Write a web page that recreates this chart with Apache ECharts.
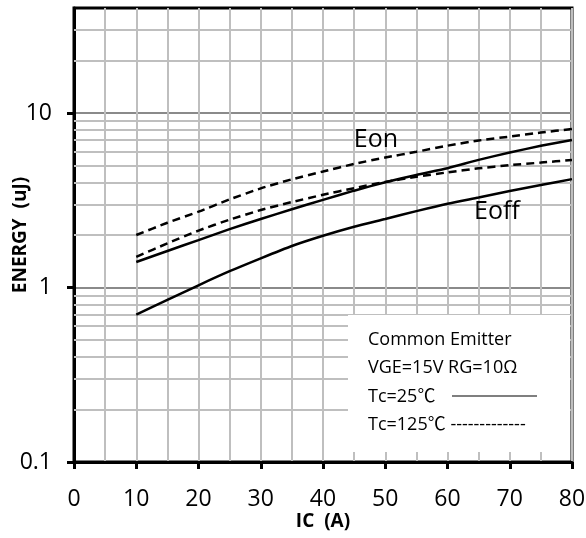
<!DOCTYPE html>
<html>
<head>
<meta charset="utf-8">
<style>
  html, body { margin: 0; padding: 0; width: 100%; height: 100%; overflow: hidden; background: #fff; }
</style>
<script src="https://cdn.jsdelivr.net/npm/echarts@6/dist/echarts.min.js"></script>
</head>
<body>
<div id="container" style="width: 586px; height: 538px;"></div>
<script>
  // collector current (A)
  const ic = [10, 15, 20, 25, 30, 35, 40, 45, 50, 55, 60, 65, 70, 75, 80];
  // switching energy (uJ)
  const eon25 = [1.40, 1.62, 1.87, 2.16, 2.47, 2.81, 3.18, 3.59, 4.01, 4.42, 4.83, 5.39, 5.94, 6.49, 7.0];
  const eon125 = [2.0, 2.35, 2.72, 3.2, 3.7, 4.17, 4.62, 5.11, 5.56, 6.0, 6.5, 6.96, 7.33, 7.73, 8.1];
  const eoff25 = [0.70, 0.85, 1.03, 1.24, 1.47, 1.73, 1.98, 2.23, 2.47, 2.74, 3.02, 3.28, 3.57, 3.87, 4.18];
  const eoff125 = [1.50, 1.79, 2.12, 2.45, 2.78, 3.09, 3.40, 3.71, 4.03, 4.31, 4.57, 4.82, 5.03, 5.2, 5.38];
  // log axis ticks and minor grid values
  const yTicks = [0.1, 1, 10];
  const yMinorGrid = [0.2, 0.3, 0.4, 0.5, 0.6, 0.7, 0.8, 0.9, 2, 3, 4, 5, 6, 7, 8, 9, 20, 30];
  const noteLines = ['Common Emitter', 'VGE=15V RG=10Ω', 'Tc=25℃', 'Tc=125℃ -------------'];

  const font = '"Open Sans", "Noto Sans CJK SC", sans-serif';
  const pairs = arr => arr.map((v, i) => [ic[i], v]);

  const chart = echarts.init(document.getElementById('container'), null, { renderer: 'canvas' });

  const curve = (name, data, dashed) => ({
    name: name,
    type: 'line',
    data: pairs(data),
    symbol: 'none',
    smooth: 0.2,
    z: 5,
    lineStyle: { color: '#000', width: 2.5, type: dashed ? [8, 5] : 'solid' }
  });

  const option = {
    animation: false,
    backgroundColor: '#fff',
    grid: {
      left: 74, right: 14, top: 8, bottom: 76,
      containLabel: false, outerBoundsMode: 'none',
      show: true, borderColor: '#000', borderWidth: 3, backgroundColor: 'transparent'
    },
    xAxis: {
      type: 'value', min: 0, max: 80, interval: 10,
      name: 'IC  (A)', nameLocation: 'middle', nameGap: 50, nameMoveOverlap: false,
      nameTextStyle: { fontFamily: font, fontSize: 19, fontWeight: 'bold', color: '#000' },
      axisLine: { lineStyle: { color: '#000', width: 3 } },
      axisTick: { show: true, length: 7, lineStyle: { color: '#000', width: 3 } },
      axisLabel: { fontFamily: font, fontSize: 23, color: '#000', margin: 26 },
      splitLine: { show: true, lineStyle: { color: '#bfbfbf', width: 2 } },
      minorTick: { show: false, splitNumber: 2 },
      minorSplitLine: { show: true, lineStyle: { color: '#bfbfbf', width: 2 } }
    },
    yAxis: {
      type: 'log', logBase: 10, min: 0.1, max: 40,
      name: 'ENERGY  (uJ)', nameLocation: 'middle', nameGap: 44, nameMoveOverlap: false,
      nameTextStyle: { fontFamily: font, fontSize: 19, fontWeight: 'bold', color: '#000' },
      axisLine: { show: true, lineStyle: { color: '#000', width: 3 } },
      axisTick: { show: true, length: 7, customValues: yTicks, lineStyle: { color: '#000', width: 3 } },
      axisLabel: { fontFamily: font, fontSize: 23, color: '#000', margin: 22, showMaxLabel: false },
      splitLine: { show: true, lineStyle: { color: '#8a8a8a', width: 2 } }
    },
    series: [
      {
        name: 'grid',
        type: 'line',
        data: [],
        z: 1,
        silent: true,
        markLine: {
          silent: true,
          symbol: ['none', 'none'],
          label: { show: false },
          lineStyle: { color: '#bfbfbf', width: 2, type: 'solid' },
          data: yMinorGrid.map(v => ({ yAxis: v }))
        }
      },
      curve('Eon 125℃', eon125, true),
      curve('Eon 25℃', eon25, false),
      curve('Eoff 125℃', eoff125, true),
      curve('Eoff 25℃', eoff25, false)
    ],
    graphic: [
      { type: 'rect', z: 50, shape: { x: 348, y: 315, width: 222, height: 137 }, style: { fill: '#fff' } },
      ...noteLines.map((t, i) => ({
        type: 'text', z: 51, x: 368, y: 340 + i * 28.2,
        style: { text: t, fontFamily: font, fontSize: 18, fill: '#000', textVerticalAlign: 'middle' }
      })),
      { type: 'line', z: 51, shape: { x1: 452, y1: 396, x2: 537, y2: 396 }, style: { stroke: '#000', lineWidth: 1.2 } },
      { type: 'text', z: 51, x: 376, y: 140,
        style: { text: 'Eon', fontFamily: font, fontSize: 25, fill: '#000', textAlign: 'center', textVerticalAlign: 'middle' } },
      { type: 'text', z: 51, x: 497, y: 212,
        style: { text: 'Eoff', fontFamily: font, fontSize: 25, fill: '#000', textAlign: 'center', textVerticalAlign: 'middle' } }
    ]
  };

  chart.setOption(option);
  window.addEventListener('resize', chart.resize);
</script>
</body>
</html>
